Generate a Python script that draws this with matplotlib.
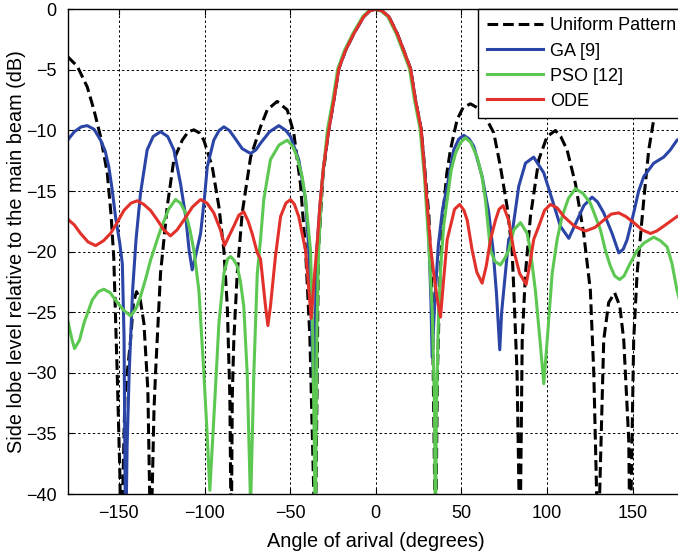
import numpy as np
import matplotlib.pyplot as plt

plt.rcParams['font.family'] = ['Liberation Sans', 'DejaVu Sans']
plt.rcParams['font.size'] = 13

# main beam, shared by all patterns
beam_x = [-27.4, -24.5, -21.6, -17.7, -12.8, -7, -3.5, 0, 3.5, 7.6, 12.5, 16.3, 20.3, 23.2, 26.5]
beam_y = [-9.9, -7.5, -4.9, -3.4, -2.0, -0.6, -0.12, 0, -0.12, -0.6, -2.0, -3.4, -4.9, -7.5, -9.9]

uni_left_x = [-180, -174.3, -168.5, -164.6, -160.7, -156.8, -154.5, -153, -151, -149.5, -148.6,
              -146.5, -143.2, -141.5, -139.7, -137.5, -135.4, -133.1, -131.4, -129.5, -128.6,
              -125.7, -121.8, -117.9, -113, -109.5, -106.2, -103, -100.4, -95.5, -91.6, -88.7,
              -86.7, -85.2, -84.4, -83.8, -82.9, -80.9, -78, -73.1, -67.3, -63.4, -57.6, -51.7,
              -47.9, -44, -41, -38.5, -35.3, -33.5, -31, -28.5]
uni_left_y = [-3.9, -4.7, -6.4, -8.3, -10.5, -13.5, -17.1, -20.5, -30, -38, -45,
              -32, -27.3, -24.2, -23.3, -24.0, -25.9, -31.4, -45, -33, -30,
              -21.8, -16.3, -12.4, -10.8, -10.1, -9.95, -10.2, -10.8, -13, -16.3, -19.9,
              -24.5, -32, -45, -32, -27.3, -21.8, -16.8, -12.2, -9.7, -8.3, -7.6, -8.3,
              -10.2, -14.4, -19.9, -27, -45, -20, -14, -11]
uni_right_x = [28.5, 31, 33, 34.9, 36, 37.5, 39.5, 41.5, 43.6, 47.5, 51, 55.3, 59, 63, 68.9,
               72.8, 76.7, 79.6, 80.6, 82.5, 84.2, 85.5, 87.4, 90.3, 95.2, 100, 104.9, 108,
               111.7, 116.6, 121.4, 125.3, 127.3, 129.8, 133.1, 136, 139.5, 142.5, 144.8,
               147.7, 148.5, 150.6, 152.6, 156.5, 159.4, 162.3, 165.5, 168.5, 174.3, 180]
uni_right_y = [-13, -17, -24, -45, -30, -22, -16.5, -13.5, -11.6, -9.1, -8.1, -7.8, -8.1, -8.6, -10.2,
               -13, -16.3, -19.9, -23.2, -30, -45, -27.3, -21.8, -17.1, -12.4, -10.5, -10, -10.5,
               -11.6, -14.4, -18.5, -23.2, -30, -45, -27.3, -24.2, -23.4, -24.5, -27.3,
               -35.5, -45, -27.3, -21.8, -15.7, -11.6, -9.1, -7.2, -6.2, -4.7, -3.9]

ga_left_x = [-180, -176, -172, -168.5, -164.5, -160.7, -158, -155.9, -154, -152, -149.5, -148,
             -147, -146.1, -145.2, -144, -142, -140, -137.4, -133.5, -130, -125.7, -121.5,
             -117.9, -114, -111, -109, -107.2, -105.3, -102.3, -100, -98.4, -94.6, -91.5,
             -88.7, -85.5, -82.9, -78, -73.1, -70, -67.3, -62, -56.6, -52.5, -49.8, -45, -41,
             -39.1, -37.5, -36.2, -34.5, -32.5, -30.5]
ga_left_y = [-10.8, -10.1, -9.7, -9.6, -9.9, -10.8, -11.7, -13, -14.8, -17.1, -19.3, -21,
             -27, -45, -36, -30, -23.2, -19, -15.2, -11.6, -10.5, -10.1, -10.5,
             -11.6, -14.4, -17.1, -19.9, -21.5, -20.4, -18.5, -15.5, -13, -10.8, -10,
             -9.7, -10, -10.5, -11.5, -11.9, -11.6, -11.05, -10.1, -9.6, -10, -10.5, -12.4, -15.7,
             -19.9, -26, -32, -20, -16, -13]
ga_right_x = [29, 31, 32.2, 32.9, 34.5, 36.5, 39, 41.7, 45.5, 48.5, 51.4, 54.5, 57.2, 62.1, 66,
              68.5, 70.5, 72.4, 73.5, 74.7, 77.6, 79.6, 83.5, 87.4, 92.2, 98.1, 103, 107.8,
              112.7, 117.6, 121.5, 126.3, 129.5, 133.1, 138, 141.9, 144.5, 146.8, 150.6, 153.5,
              156.5, 162.3, 168.1, 172, 175.9, 180]
ga_right_y = [-14.2, -19, -24, -28.7, -24, -19.5, -16.5, -14.6, -11.6, -10.7, -10.4, -10.7, -11.3, -13.8, -16.8,
              -19.9, -23.5, -28.1, -25, -23.2, -19, -18.5, -14.6, -12.7, -12.2, -13.5, -15.7, -17.9,
              -18.9, -17.4, -16.2, -15.5, -15.9, -16.8, -18.5, -20.1, -19.8, -19, -16.8, -15,
              -13.8, -12.7, -12.2, -11.6, -10.8, -10.5]

pso_left_x = [-180, -177.5, -175.9, -173, -170.4, -165.6, -162, -158.8, -155, -152, -147.5, -143.2,
              -140, -137.4, -134.5, -131.5, -127.6, -125.7, -121, -116.9, -114, -111.1, -108.5,
              -106.2, -103.3, -100.4, -98.5, -96.9, -94.2, -91.6, -88.7, -86.5, -84.8, -82.8,
              -80.9, -79, -77.1, -75.1, -73.1, -71.2, -69.2, -67.3, -65.4, -61.5, -56.5, -51.7,
              -48.5, -45.9, -43, -41, -38.1, -36.8, -35.9, -35.3, -34.9, -34.3, -33.4, -31.5, -28.2]
pso_left_y = [-25.6, -27.2, -28, -27.3, -25.9, -24, -23.3, -23.1, -23.4, -24, -24.8, -25.3,
              -24.7, -23.7, -22.3, -20.7, -19, -18.2, -16.5, -15.7, -16, -16.8, -18.2,
              -19.9, -23.2, -30, -35, -39.7, -32.8, -25.9, -21.8, -20.6, -20.4, -20.7,
              -21.2, -22.5, -24.5, -30, -41, -30, -21.8, -19, -15.7, -12.4, -11.2, -10.8,
              -11.3, -12.2, -13.8, -15.7, -19.9, -27, -36, -45, -36, -26, -20, -14.5, -9.9]
pso_right_x = [28.5, 31, 33, 34.3, 34.8, 35.4, 36.5, 38, 39.7, 41.7, 44, 46.5, 49.5, 52.4, 55.5,
               59.2, 62, 64, 67, 69.5, 72.8, 75.5, 77.6, 80.6, 84.5, 88.4, 90.3, 93.2, 96.2, 98.1,
               100.1, 103, 105.9, 108.8, 112.5, 116.6, 121, 125.3, 131.2, 134.1, 137, 139.5,
               142.4, 145, 147.7, 152.6, 156.5, 162.3, 166.2, 170.1, 173, 175.9, 180]
pso_right_y = [-14, -19.5, -25, -33, -45, -33, -26, -21, -17.8, -15.7, -13.3, -11.9, -11, -10.6, -11,
               -12.2, -13.8, -15.7, -19.9, -20.8, -21.1, -20.5, -19.9, -18.2, -17.6, -18.5, -19.9, -23.2, -27.8, -30.9,
               -27.3, -21.8, -19, -17.1, -15.6, -14.8, -15.2, -16, -18.2, -19.9, -21.2, -22,
               -22.3, -22, -21.2, -19.9, -19.3, -18.8, -19.1, -19.6, -21, -23.2, -25.4]

ode_left_x = [-180, -176, -172.4, -168, -163.6, -159, -154.9, -151, -147.1, -143, -139.3, -135.5,
              -131.5, -127.5, -123.8, -119.9, -116, -112.1, -107, -102.3, -98.5, -94.6, -90.7,
              -88.3, -86, -82.9, -80, -77.1, -74.5, -72.2, -69.2, -67.3, -64.4, -63, -61.5, -58.6,
              -55.6, -52.5, -49.8, -47.5, -45, -41, -39.2, -37.7, -36, -34.2, -32.5, -30.5]
ode_left_y = [-17.3, -17.8, -18.5, -19.2, -19.5, -19.1, -18.5, -17.6, -16.6, -16.0, -15.8, -16.1,
              -16.6, -17.4, -18.2, -18.7, -18.2, -17.4, -16.3, -15.7, -16, -16.8, -18.2,
              -19.5, -18.8, -17.9, -17, -16.7, -17.5, -18.5, -20.1, -20.6, -24.5, -26.1, -24.5, -20.4,
              -17.1, -16, -15.7, -16.1, -17.1, -19.9, -23, -25.5, -22.3, -19.3, -16, -13]
ode_right_x = [29, 31.9, 34, 36, 37.8, 39.5, 41.7, 43.6, 46, 49, 51.5, 53.4, 56.3, 59, 62.1, 64.5,
               67, 69.9, 72, 74.4, 77.6, 80.6, 84, 87.8, 90, 92.2, 95.2, 98.5, 102, 106, 109.8,
               116, 122.4, 128, 133.1, 137.5, 141.9, 146, 150.6, 155.5, 160.4, 164, 168.1, 172,
               175.9, 180]
ode_right_y = [-14.2, -19.5, -22, -24, -25.4, -22.5, -19, -17.9, -16.5, -16.1, -16.6, -17.4, -19.9, -21.7, -22.6, -21.2,
               -19, -17.4, -16.5, -16.2, -17.4, -19.9, -21.8, -22.7, -21, -19, -17.9, -16.6, -16.1, -16.4, -17.1,
               -17.9, -18.3, -18, -17.4, -16.9, -16.8, -17.1, -17.6, -18.2, -18.5, -18.3, -17.9, -17.5,
               -17.1, -16.9]

uni_x = uni_left_x + beam_x + uni_right_x
uni_y = uni_left_y + beam_y + uni_right_y
ga_x = ga_left_x + beam_x + ga_right_x
ga_y = ga_left_y + beam_y + ga_right_y
pso_x = pso_left_x + [v - 0.6 for v in beam_x[1:]] + pso_right_x
pso_y = pso_left_y + beam_y[1:] + pso_right_y
ode_x = ode_left_x + beam_x + ode_right_x
ode_y = ode_left_y + beam_y + ode_right_y

fig = plt.figure(figsize=(6.78, 5.54), dpi=100)
ax = fig.add_axes([0.0996, 0.1083, 0.9093, 0.8749])

ax.plot(uni_x, uni_y, color='black', linestyle='--', dashes=(3.5, 1.6), linewidth=2.2, label='Uniform Pattern')
ax.plot(ga_x, ga_y, color='#2b45a7', linewidth=2.2, label='GA [9]')
ax.plot(pso_x, pso_y, color='#5cc851', linewidth=2.2, label='PSO [12]')
ax.plot(ode_x, ode_y, color='#e2312a', linewidth=2.2, label='ODE')

ax.set_xlim(-180, 180)
ax.set_ylim(-40, 0)
ax.set_xticks([-150, -100, -50, 0, 50, 100, 150])
ax.set_yticks(np.arange(-40, 1, 5))
ax.grid(True, color='black', linestyle=(0, (2.5, 2.5)), linewidth=0.7)
ax.tick_params(direction='in', top=True, right=True, length=4, pad=8)
for s in ax.spines.values():
    s.set_linewidth(1.0)

ax.set_xlabel('Angle of arival (degrees)', fontsize=14.3, labelpad=7)
ax.set_ylabel('Side lobe level relative to the main beam (dB)', fontsize=14.3, labelpad=0)

leg = ax.legend(loc='upper right', bbox_to_anchor=(1.0, 1.0), borderaxespad=0,
                fancybox=False, framealpha=1, edgecolor='black', handlelength=3.1,
                handletextpad=0.4, labelspacing=0.45, borderpad=0.45)
leg.get_frame().set_linewidth(1.0)

fig.savefig('out.png', dpi=100)
